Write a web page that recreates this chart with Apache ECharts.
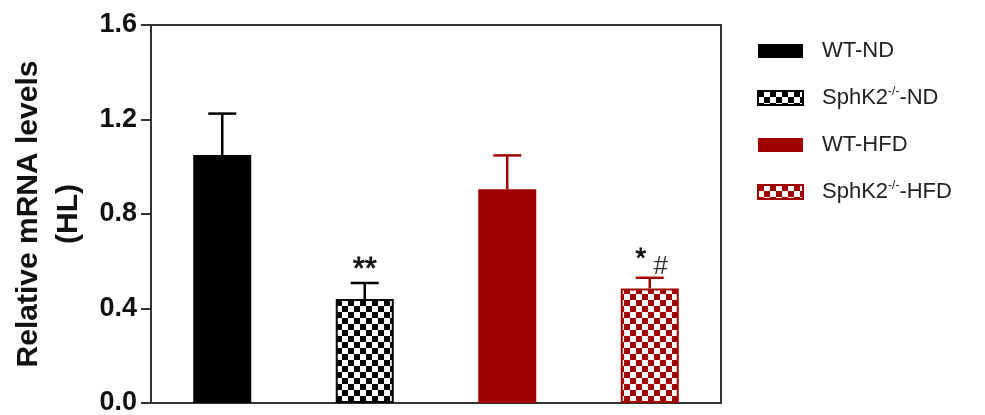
<!DOCTYPE html>
<html>
<head>
<meta charset="utf-8">
<script src="https://cdn.jsdelivr.net/npm/echarts@6/dist/echarts.min.js"></script>
<style>
html,body{margin:0;padding:0;background:#fff;}
#chart{width:985px;height:415px;}
</style>
</head>
<body>
<div id="chart"></div>
<script>
// ---- data ----
const categories = ['WT-ND', 'SphK2-/--ND', 'WT-HFD', 'SphK2-/--HFD'];
const means = [1.05, 0.44, 0.905, 0.485];
const errors = [0.175, 0.068, 0.143, 0.045];
const sigMain = ['', '**', '', '*'];
const sigSub = ['', '', '', '#'];
const yTicks = [0.0, 0.4, 0.8, 1.2, 1.6];

// ---- styles ----
const BLACK = '#000000';
const RED = '#a00000';
const baseColors = [BLACK, BLACK, RED, RED];
const patterned = [false, true, false, true];
const FONT = "'Liberation Sans', Arial, sans-serif";

function checker(color) {
  const c = document.createElement('canvas');
  c.width = 12; c.height = 12;
  const g = c.getContext('2d');
  g.fillStyle = '#ffffff';
  g.fillRect(0, 0, 12, 12);
  g.fillStyle = color;
  g.fillRect(0, 0, 6, 6);
  g.fillRect(6, 6, 6, 6);
  return c;
}

const chart = echarts.init(document.getElementById('chart'), null, {renderer: 'canvas'});

const barSeries = categories.map((name, i) => ({
  name: name,
  type: 'bar',
  stack: 'all',
  barWidth: 58,
  data: categories.map((c, j) => (j === i ? means[j] : '-')),
  itemStyle: {
    color: patterned[i] ? {image: checker(baseColors[i]), repeat: 'repeat'} : baseColors[i],
    borderColor: baseColors[i],
    borderWidth: patterned[i] ? 2 : 0
  },
  emphasis: {disabled: true},
  silent: true,
  z: 3
}));

const errSeries = {
  type: 'custom',
  silent: true,
  z: 2,
  data: means.map((m, i) => [i, m, errors[i]]),
  renderItem: function (params, api) {
    const i = params.dataIndex;
    const x = api.value(0), v = api.value(1), e = api.value(2);
    const p0 = api.coord([x, v]);
    const p1 = api.coord([x, v + e]);
    const col = baseColors[i];
    const hw = 14;
    const children = [
      {type: 'line', shape: {x1: p0[0], y1: p0[1], x2: p1[0], y2: p1[1]}, style: {stroke: col, lineWidth: 2.5}},
      {type: 'line', shape: {x1: p1[0] - hw, y1: p1[1], x2: p1[0] + hw, y2: p1[1]}, style: {stroke: col, lineWidth: 2.5}}
    ];
    if (sigMain[i]) {
      children.push({
        type: 'text',
        x: sigSub[i] ? p1[0] - 9 : p1[0],
        y: sigSub[i] ? p1[1] - 18 : p1[1] - 13,
        style: {text: sigMain[i], fontSize: sigSub[i] ? 27 : 31, fontFamily: FONT, fill: '#111',
                align: 'center', verticalAlign: 'middle', stroke: '#111', lineWidth: 0.8}
      });
    }
    if (sigSub[i]) {
      children.push({
        type: 'text',
        x: p1[0] + 11,
        y: p1[1] - 11,
        style: {text: sigSub[i], fontSize: 26, fontFamily: FONT, fill: '#333',
                align: 'center', verticalAlign: 'middle'}
      });
    }
    return {type: 'group', children: children};
  }
};

const option = {
  backgroundColor: '#ffffff',
  animation: false,
  grid: {
    left: 151, right: 264, top: 25, bottom: 12,
    containLabel: false,
    outerBoundsMode: 'none',
    show: true, borderColor: '#333', borderWidth: 2, backgroundColor: 'transparent'
  },
  legend: {
    orient: 'vertical',
    left: 752,
    top: 34,
    itemWidth: 45,
    itemHeight: 14,
    itemGap: 23,
    icon: 'rect',
    data: categories,
    selectedMode: false,
    formatter: function (name) {
      return name.replace('-/-', '{sup|-/-}');
    },
    textStyle: {
      fontFamily: FONT, fontSize: 22, color: '#222', lineHeight: 24,
      padding: [0, 0, 0, 14],
      rich: {
        sup: {fontFamily: FONT, fontSize: 12, color: '#222', verticalAlign: 'top', lineHeight: 24, padding: [0, 0, 10, 0]}
      }
    }
  },
  xAxis: {
    type: 'category',
    data: categories,
    axisLine: {show: true, lineStyle: {color: '#333', width: 2}},
    axisTick: {show: false},
    axisLabel: {show: false},
    splitLine: {show: false}
  },
  yAxis: {
    type: 'value',
    min: yTicks[0],
    max: yTicks[yTicks.length - 1],
    interval: 0.4,
    name: 'Relative mRNA levels\n(HL)',
    nameLocation: 'middle',
    nameRotate: 90,
    nameGap: 60,
    nameTextStyle: {fontFamily: FONT, fontSize: 30, fontWeight: 'bold', color: '#111', lineHeight: 40},
    axisLine: {show: true, lineStyle: {color: '#333', width: 2}},
    axisTick: {show: true, length: 10, inside: false, lineStyle: {color: '#333', width: 2}},
    axisLabel: {
      margin: 14,
      fontFamily: FONT, fontSize: 27, fontWeight: 'bold', color: '#111',
      formatter: function (v) { return v.toFixed(1); }
    },
    splitLine: {show: false}
  },
  series: barSeries.concat([errSeries])
};

chart.setOption(option);
</script>
</body>
</html>
